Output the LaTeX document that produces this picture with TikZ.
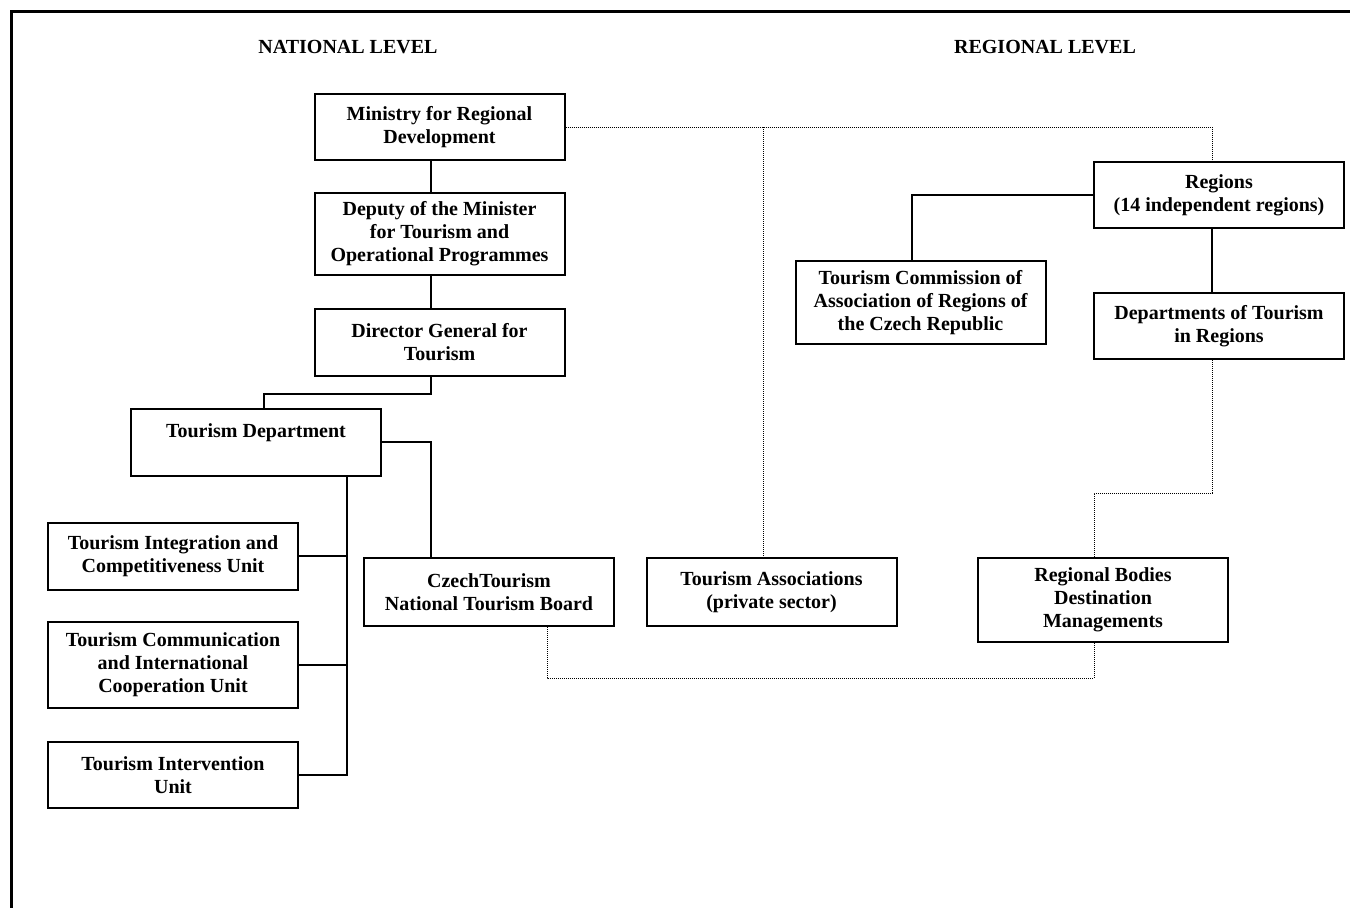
\documentclass[tikz,border=0pt]{standalone}
\usepackage{fontspec}
\setmainfont{Liberation Serif}
\usepackage{tikz}
\usetikzlibrary{backgrounds}

\begin{document}
\begin{tikzpicture}[x=1pt,y=-1pt]
	\useasboundingbox (0,0) rectangle (1350,908);
	\draw[line width=3pt] (11,908) -- (11,11) -- (1350,11);
	\begin{scope}[every node/.style={font=\fontsize{20}{23}\bfseries}]
		\node (nat) at (348,47) {NATIONAL LEVEL};
		\node (reg) at (1045,47) {REGIONAL LEVEL};
	\end{scope}
	\begin{scope}[every node/.style={draw,line width=2pt,minimum width=250pt,inner sep=0pt,align=center,font=\fontsize{20}{23}\bfseries}]
		\node[minimum height=66pt] (min) at (439.5,127) {Ministry for Regional\\Development};
		\node[minimum height=82pt] (dep) at (439.5,234) {Deputy of the Minister\\for Tourism and\\Operational Programmes};
		\node[minimum height=67pt] (dir) at (439.5,342.5) {Director General for\\Tourism};
		\node[minimum height=67pt] (tdep) at (256,442) {Tourism Department\\\mbox{}};
		\node[minimum height=67pt] (tiu) at (173,556) {Tourism Integration and\\Competitiveness Unit};
		\node[minimum height=86pt] (tcu) at (173,665) {Tourism Communication\\and International\\Cooperation Unit};
		\node[minimum height=66pt] (tvu) at (173,775) {Tourism Intervention\\Unit};
		\node[minimum height=68pt] (czt) at (489,592) {CzechTourism\\National Tourism Board};
		\node[minimum height=68pt] (tas) at (771.5,592) {Tourism Associations\\(private sector)};
		\node[minimum height=84pt] (rbd) at (1103,600) {Regional Bodies\\Destination\\Managements};
		\node[minimum height=83pt] (tcom) at (920.5,302.5) {Tourism Commission of\\Association of Regions of\\the Czech Republic};
		\node[minimum height=66pt] (rgn) at (1219,195) {Regions\\(14 independent regions)};
		\node[minimum height=66pt] (dtr) at (1219,326) {Departments of Tourism\\in Regions};
	\end{scope}
	\coordinate (spine) at (347,0);
	\coordinate (tasup) at ([xshift=-8.5pt]tas.north);

	\begin{scope}[every path/.style={draw=black,line width=2pt}]
		\path ([xshift=-8.5pt]min.south) -- ([xshift=-8.5pt]dep.north);
		\path ([xshift=-8.5pt]dep.south) -- ([xshift=-8.5pt]dir.north);
		\path ([xshift=-8.5pt]dir.south) -- ++(0,17) -| ([xshift=8pt]tdep.north);
		\path (tdep.east) -| ([xshift=-58pt]czt.north);
		\path (tdep.south -| spine) |- (tvu.east);
		\path (tiu.east) -- (tiu.east -| spine);
		\path (tcu.east) -- (tcu.east -| spine);
		\path (rgn.west) -| ([xshift=-8.5pt]tcom.north);
		\path ([xshift=-7pt]rgn.south) -- ([xshift=-7pt]dtr.north);
	\end{scope}

	\begin{scope}[every path/.style={draw=black,line width=1pt,dash pattern=on 1pt off 1pt}]
		\path (min.east) -| ([xshift=-7pt]rgn.north);
		\path (tasup |- min.east) -- (tasup);
		\path ([xshift=-7pt]dtr.south) -- ++(0,133) -| ([xshift=-9pt]rbd.north);
		\path ([xshift=58pt]czt.south) -- ++(0,51) -| ([xshift=-9pt]rbd.south);
	\end{scope}
\end{tikzpicture}
\end{document}
